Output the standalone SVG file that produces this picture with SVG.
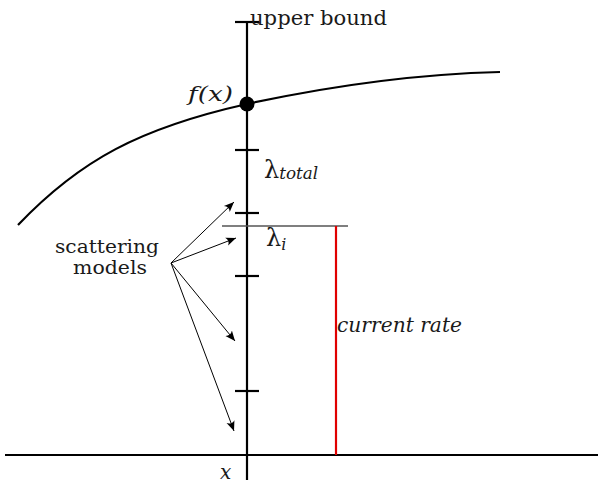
<svg xmlns="http://www.w3.org/2000/svg" width="599" height="485" viewBox="0 0 599 485">
<defs>
<marker id="ah" viewBox="-10 -5 11 10" refX="0" refY="0" markerWidth="11" markerHeight="10" markerUnits="userSpaceOnUse" orient="auto">
<path d="M0,0 L-10,-4.2 Q-6.5,0 -10,4.2 Z" fill="#000"/>
</marker>
</defs>
<style>
.ax{stroke:#000;stroke-width:2.2;fill:none}
.tk{stroke:#000;stroke-width:2.2}
.ar{stroke:#000;stroke-width:1;fill:none;marker-end:url(#ah)}
text{font-family:'DejaVu Serif','Liberation Serif',serif;font-size:20px;fill:#1a1a1a}
.i{font-style:italic}
.s{font-size:16px}
.l{font-size:24px;font-style:normal}
.m{font-size:18px}
</style>
<g id="axes">
<line class="ax" x1="5" y1="455" x2="598" y2="455"/>
<line class="ax" x1="247" y1="22" x2="247" y2="480"/>
</g>
<g id="ticks">
<line class="tk" x1="235" y1="22" x2="259" y2="22"/>
<line class="tk" x1="235" y1="150" x2="259" y2="150"/>
<line class="tk" x1="235" y1="213" x2="259" y2="213"/>
<line class="tk" x1="235" y1="276" x2="259" y2="276"/>
<line class="tk" x1="235" y1="391" x2="259" y2="391"/>
</g>
<g id="curve">
<path class="ax" d="M18,225 C80,160 140,128 247,104 C330,86 420,74 500,72"/>
<circle cx="247" cy="104" r="7.5" fill="#000"/>
</g>
<g id="current-rate">
<line x1="222" y1="226" x2="348" y2="226" stroke="#555" stroke-width="1.3"/>
<line x1="336" y1="226" x2="336" y2="455" stroke="#e00000" stroke-width="2.2"/>
</g>
<g id="connectors">
<line class="ar" x1="171" y1="263" x2="234" y2="202"/>
<line class="ar" x1="171" y1="263" x2="236" y2="238"/>
<line class="ar" x1="171" y1="263" x2="235" y2="341"/>
<line class="ar" x1="171" y1="263" x2="234" y2="431"/>
</g>
<g id="labels">
<text x="250" y="25" textLength="137" lengthAdjust="spacingAndGlyphs">upper bound</text>
<text class="i" x="188" y="101" textLength="45" lengthAdjust="spacingAndGlyphs">f(x)</text>
<text x="264" y="178"><tspan class="l">λ</tspan><tspan class="i s" dy="1" textLength="39" lengthAdjust="spacingAndGlyphs">total</tspan></text>
<text x="266" y="246"><tspan class="l">λ</tspan><tspan class="i s" dy="4">i</tspan></text>
<text class="m" x="107" y="253" text-anchor="middle" textLength="104" lengthAdjust="spacingAndGlyphs">scattering</text>
<text class="m" x="110" y="274" text-anchor="middle" textLength="74" lengthAdjust="spacingAndGlyphs">models</text>
<text class="i" x="337" y="332" textLength="125" lengthAdjust="spacingAndGlyphs">current rate</text>
<text class="i" x="220" y="479" font-size="22">x</text>
</g>
</svg>
